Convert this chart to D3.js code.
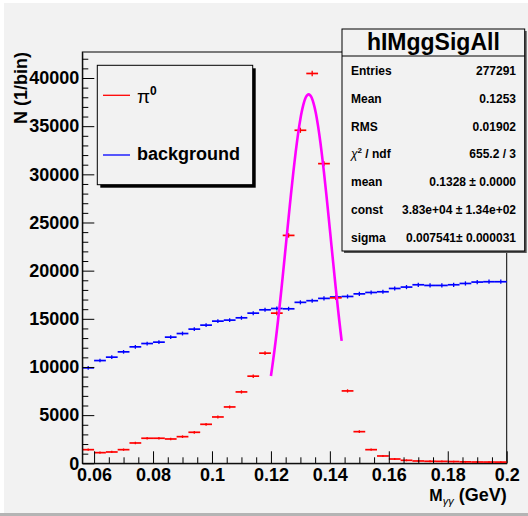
<!DOCTYPE html>
<html>
<head>
  <meta charset="UTF-8" />
  <title>hIMggSigAll</title>
  <script src="https://d3js.org/d3.v7.min.js"></script>
  <style>
    body { margin: 0; }
    svg { display: block; font-family: "Liberation Sans", Arial, Helvetica, sans-serif; }
    .axis path, .axis line { stroke: #000; }
    .axis text { font-size: 18px; font-weight: bold; fill: #000; }
    .stat { font-size: 12px; font-weight: bold; }
  </style>
</head>
<body>
<svg id="chart" width="528" height="516"></svg>

<script>
  // bin centres (width 0.004 GeV)
  const binCenters = [0.058, 0.062, 0.066, 0.070, 0.074, 0.078, 0.082, 0.086, 0.090,
    0.094, 0.098, 0.102, 0.106, 0.110, 0.114, 0.118, 0.122, 0.126, 0.130, 0.134,
    0.138, 0.142, 0.146, 0.150, 0.154, 0.158, 0.162, 0.166, 0.170, 0.174, 0.178,
    0.182, 0.186, 0.190, 0.194, 0.198];
  const binWidth = 0.004;

  // pi0 signal
  const pi0Counts = [1415, 1105, 1175, 1415, 2110, 2600, 2600, 2525, 2765, 3220,
    4050, 4810, 5850, 7410, 9045, 11435, 15590, 23660, 34575, 40470, 31110, 17180,
    7515, 3285, 1415, 760, 445, 310, 240, 210, 200, 180, 150, 135, 130, 125];

  // background
  const bgCounts = [9906, 10666, 11018, 11570, 12090, 12435, 12578, 13098, 13472,
    13930, 14345, 14760, 14865, 15104, 15590, 15935, 16071, 16040, 16710, 16880,
    17120, 17270, 17320, 17590, 17735, 17807, 18150, 18295, 18535, 18465, 18465,
    18535, 18670, 18815, 18850, 18850];

  const xTicks = [0.06, 0.08, 0.1, 0.12, 0.14, 0.16, 0.18, 0.2];
  const xTickLabels = ["0.06", "0.08", "0.1", "0.12", "0.14", "0.16", "0.18", "0.2"];
  const yTicks = [0, 5000, 10000, 15000, 20000, 25000, 30000, 35000, 40000];

  // gaus fit result and fit range
  const fitMean = 0.1328, fitConst = 38300, fitSigma = 0.007541;
  const fitRange = [0.12, 0.144];

  const statLabels = ["Entries", "Mean", "RMS", "chi2", "mean", "const", "sigma"];
  const statValues = ["277291", "0.1253", "0.01902", "655.2 / 3",
    "0.1328 \u00b1 0.0000", "3.83e+04 \u00b1 1.34e+02", "0.007541\u00b1 0.000031"];

  const width = 528, height = 516;
  const frame = { left: 82.3, right: 506.7, top: 52, bottom: 463.3 };

  const svg = d3.select("#chart");

  // canvas background
  svg.append("rect").attr("width", width).attr("height", height).attr("fill", "#fff");
  svg.append("rect").attr("x", 4).attr("y", 3).attr("width", width - 4).attr("height", 510)
    .attr("fill", "#f2f2f2");
  svg.append("rect").attr("x", 0).attr("y", 513).attr("width", width).attr("height", 3)
    .attr("fill", "#b4b4b4");

  const x = d3.scaleLinear().domain([0.056, 0.2]).range([frame.left, frame.right]);
  const y = d3.scaleLinear().domain([0, 42700]).range([frame.bottom, frame.top]);

  // frame
  svg.append("rect")
    .attr("x", frame.left).attr("y", frame.top)
    .attr("width", frame.right - frame.left).attr("height", frame.bottom - frame.top)
    .attr("fill", "none").attr("stroke", "#000").attr("stroke-width", 1);

  // histograms with errors
  function drawHist(counts, color) {
    const g = svg.append("g").attr("stroke", color).attr("stroke-width", 1.7);
    g.selectAll(".h").data(counts).enter().append("line")
      .attr("x1", (d, i) => x(binCenters[i] - binWidth / 2))
      .attr("x2", (d, i) => x(binCenters[i] + binWidth / 2))
      .attr("y1", d => y(d)).attr("y2", d => y(d));
    g.selectAll(".v").data(counts).enter().append("line")
      .attr("x1", (d, i) => x(binCenters[i]))
      .attr("x2", (d, i) => x(binCenters[i]))
      .attr("y1", d => y(d + Math.sqrt(d)) - 0.8)
      .attr("y2", d => y(d - Math.sqrt(d)) + 0.8)
      .attr("stroke-width", 1.3);
  }
  drawHist(bgCounts, "#0000ff");
  drawHist(pi0Counts, "#ff0000");

  // fit curve
  const fitX = d3.range(fitRange[0], fitRange[1] + 1e-9, 0.0004);
  const gaus = v => fitConst * Math.exp(-0.5 * Math.pow((v - fitMean) / fitSigma, 2));
  svg.append("path")
    .datum(fitX)
    .attr("fill", "none").attr("stroke", "#ff00ff").attr("stroke-width", 2.6)
    .attr("d", d3.line().x(d => x(d)).y(d => y(gaus(d))).curve(d3.curveMonotoneX));

  // axes: major ticks labelled, minor ticks unlabelled
  svg.append("g").attr("class", "axis")
    .attr("transform", `translate(${frame.left},0)`)
    .call(d3.axisLeft(y).tickValues(yTicks).tickSizeInner(-12).tickSizeOuter(0).tickPadding(3)
      .tickFormat(d3.format("d")));
  svg.append("g").attr("class", "axis")
    .attr("transform", `translate(${frame.left},0)`)
    .call(d3.axisLeft(y).tickValues(d3.range(1000, 42700, 1000).filter(v => v % 5000))
      .tickSizeInner(-6).tickSizeOuter(0).tickFormat(""))
    .select(".domain").remove();

  svg.append("g").attr("class", "axis")
    .attr("transform", `translate(0,${frame.bottom})`)
    .call(d3.axisBottom(x).tickValues(xTicks).tickSizeInner(-12).tickSizeOuter(0).tickPadding(5)
      .tickFormat((d, i) => xTickLabels[i]));
  svg.append("g").attr("class", "axis")
    .attr("transform", `translate(0,${frame.bottom})`)
    .call(d3.axisBottom(x).tickValues([0.065, 0.07, 0.075, 0.085, 0.09, 0.095, 0.105, 0.11, 0.115,
      0.125, 0.13, 0.135, 0.145, 0.15, 0.155, 0.165, 0.17, 0.175, 0.185, 0.19, 0.195])
      .tickSizeInner(-6).tickSizeOuter(0).tickFormat(""))
    .select(".domain").remove();

  // axis titles
  svg.append("text")
    .attr("transform", `translate(27,${frame.top}) rotate(-90)`)
    .attr("text-anchor", "end")
    .attr("font-size", 18).attr("font-weight", "bold")
    .text("N (1/bin)");

  const xt = svg.append("text")
    .attr("x", frame.right).attr("y", 501)
    .attr("text-anchor", "end").attr("font-weight", "bold");
  xt.append("tspan").attr("font-size", 16).text("M");
  xt.append("tspan").attr("font-size", 11).attr("font-weight", "normal")
    .attr("font-style", "italic").attr("dy", 4).text("\u03b3\u03b3");
  xt.append("tspan").attr("font-size", 18).attr("dy", -4).text(" (GeV)");

  // legend
  const lg = { x: 97.3, y: 65.3, w: 155.4, h: 119.4 };
  svg.append("rect").attr("x", lg.x + 3).attr("y", lg.y + 3)
    .attr("width", lg.w).attr("height", lg.h).attr("fill", "#000");
  svg.append("rect").attr("x", lg.x).attr("y", lg.y)
    .attr("width", lg.w).attr("height", lg.h)
    .attr("fill", "#f2f2f2").attr("stroke", "#000");
  const legendItems = [
    { color: "#ff0000", ly: 95.3 },
    { color: "#0000ff", ly: 155 }
  ];
  svg.selectAll(".lgline").data(legendItems).enter().append("line")
    .attr("x1", 103).attr("x2", 130)
    .attr("y1", d => d.ly).attr("y2", d => d.ly)
    .attr("stroke", d => d.color).attr("stroke-width", 1.3);
  const pi = svg.append("text").attr("x", 137).attr("y", 103);
  pi.append("tspan").attr("font-size", 19).text("\u03c0");
  pi.append("tspan").attr("font-size", 12).attr("font-weight", "bold").attr("dy", -8).text("0");
  svg.append("text").attr("x", 137).attr("y", 159.5)
    .attr("font-size", 18).attr("font-weight", "bold")
    .text("background");

  // stats box
  const sb = { x: 342, y: 29, w: 182.7, h: 222 };
  svg.append("rect").attr("x", sb.x + 2).attr("y", sb.y + 2)
    .attr("width", sb.w).attr("height", sb.h).attr("fill", "#555");
  svg.append("rect").attr("x", sb.x).attr("y", sb.y)
    .attr("width", sb.w).attr("height", sb.h)
    .attr("fill", "#f2f2f2").attr("stroke", "#000");
  svg.append("line").attr("x1", sb.x).attr("x2", sb.x + sb.w)
    .attr("y1", 56).attr("y2", 56).attr("stroke", "#000");
  svg.append("text").attr("x", sb.x + sb.w / 2).attr("y", 50)
    .attr("text-anchor", "middle").attr("font-size", 23).attr("font-weight", "bold")
    .text("hIMggSigAll");

  const rows = svg.selectAll(".row").data(statLabels).enter().append("g");
  rows.append("text").attr("class", "stat")
    .attr("x", 351).attr("y", (d, i) => 75 + i * 27.8)
    .each(function (d) {
      const t = d3.select(this);
      if (d === "chi2") {
        t.append("tspan").attr("font-weight", "normal").attr("font-style", "italic").text("\u03c7");
        t.append("tspan").attr("font-size", 8).attr("dy", -5).text("2");
        t.append("tspan").attr("dy", 5).text(" / ndf");
      } else {
        t.text(d);
      }
    });
  rows.append("text").attr("class", "stat")
    .attr("x", 516).attr("y", (d, i) => 75 + i * 27.8)
    .attr("text-anchor", "end")
    .text((d, i) => statValues[i]);
</script>
</body>
</html>
